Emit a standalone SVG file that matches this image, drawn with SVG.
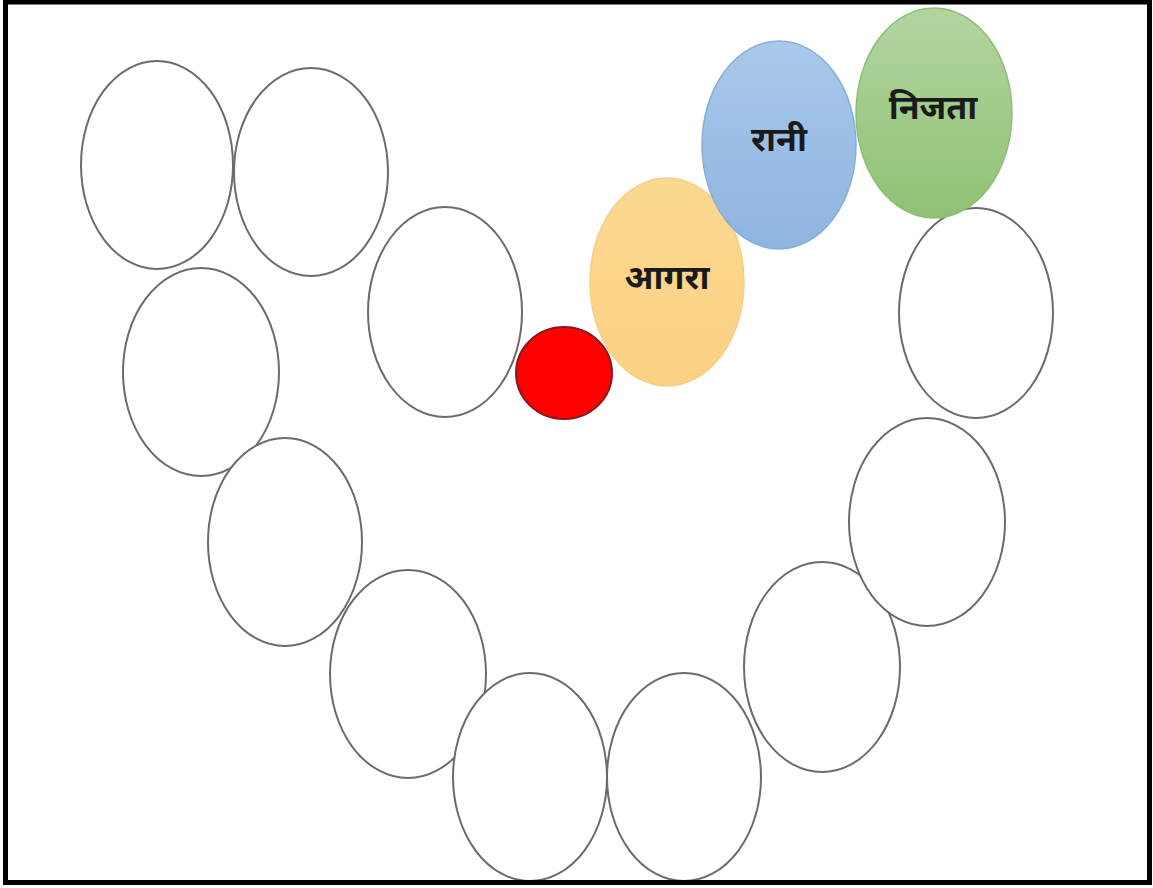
<svg xmlns="http://www.w3.org/2000/svg" width="1153" height="888" viewBox="0 0 1153 888">
<style>
.e{fill:#ffffff;stroke:#6b6b6b;stroke-width:2}
.t{font-family:"Noto Sans Devanagari","Noto Sans","DejaVu Sans",sans-serif;font-weight:bold;font-size:34px;fill:#1a1a1a;text-anchor:middle;dominant-baseline:central}
</style>
<defs>
<linearGradient id="gb" x1="0" y1="0" x2="0" y2="1"><stop offset="0" stop-color="#a9c8ea"/><stop offset="1" stop-color="#8fb4e0"/></linearGradient>
<linearGradient id="gg" x1="0" y1="0" x2="0" y2="1"><stop offset="0" stop-color="#b2d5a0"/><stop offset="1" stop-color="#8fc174"/></linearGradient>
<linearGradient id="go" x1="0" y1="0" x2="0" y2="1"><stop offset="0" stop-color="#fcd890"/><stop offset="1" stop-color="#fbd283"/></linearGradient>
</defs>
<rect x="0" y="0" width="1153" height="888" fill="#ffffff"/>
<g id="n1"><ellipse class="e" cx="157" cy="165" rx="76" ry="104"/></g>
<g id="n2"><ellipse class="e" cx="311" cy="172" rx="77" ry="104"/></g>
<g id="n3"><ellipse class="e" cx="201" cy="372" rx="78" ry="104"/></g>
<g id="n4"><ellipse class="e" cx="445" cy="312" rx="77" ry="105"/></g>
<g id="n15"><ellipse class="e" cx="285" cy="542" rx="77" ry="104"/></g>
<g id="n14"><ellipse class="e" cx="408" cy="674" rx="78" ry="104"/></g>
<g id="n13"><ellipse class="e" cx="530" cy="777" rx="77" ry="104"/></g>
<g id="n12"><ellipse class="e" cx="684" cy="777" rx="77" ry="104"/></g>
<g id="n11"><ellipse class="e" cx="822" cy="667" rx="78" ry="105"/></g>
<g id="n10"><ellipse class="e" cx="927" cy="522" rx="78" ry="104"/></g>
<g id="n9"><ellipse class="e" cx="976" cy="313" rx="77" ry="105"/></g>
<g id="red"><ellipse cx="564" cy="373" rx="48" ry="46" fill="#ff0000" stroke="#8a1a1a" stroke-width="2"/></g>
<g id="agra"><ellipse cx="667" cy="282" rx="77" ry="104" fill="url(#go)" stroke="#f5cf8a" stroke-width="1.5"/><text class="t" x="667" y="281">आगरा</text></g>
<g id="rani"><ellipse cx="779" cy="145" rx="77" ry="104" fill="url(#gb)" stroke="#8aaed6" stroke-width="1.5"/><text class="t" x="779" y="143">रानी</text></g>
<g id="nijata"><ellipse cx="934" cy="113" rx="78" ry="105" fill="url(#gg)" stroke="#8dbd78" stroke-width="1.5"/><text class="t" x="933" y="111">निजता</text></g>
<g id="connectors"></g>
<rect x="5.5" y="2" width="1144" height="880.5" fill="none" stroke="#000000" stroke-width="5"/>
</svg>
